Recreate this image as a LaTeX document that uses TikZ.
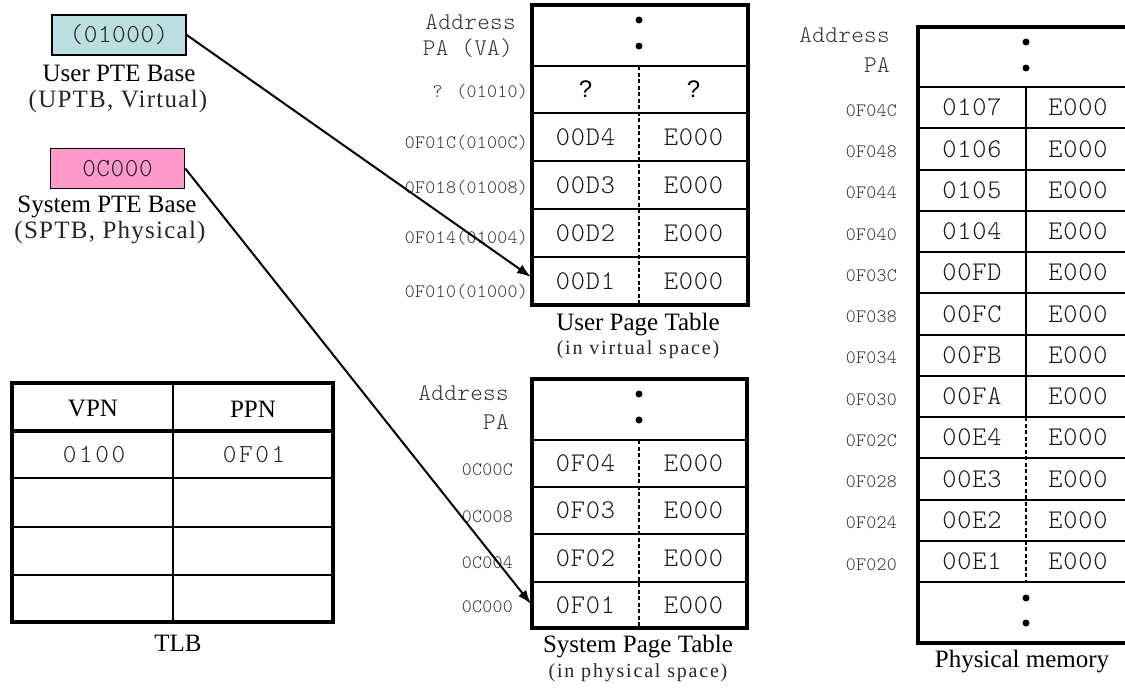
\documentclass[tikz,border=0pt]{standalone}
\usepackage{fontspec}
\setmainfont{Liberation Serif}
\newfontfamily\myMonoA{lmmonolt10-regular.otf}[LetterSpace=3]
\newfontfamily\myMonoB{lmmonolt10-regular.otf}[LetterSpace=1.5]
\newfontfamily\myMonoC{lmmonolt10-regular.otf}[LetterSpace=2]
\newfontfamily\myMonoD{lmmonolt10-regular.otf}[LetterSpace=10]
\newfontfamily\mySerifSp{Liberation Serif}[LetterSpace=5]
\newfontfamily\mySerifSub{Liberation Serif}[LetterSpace=9]
\newfontfamily\mySansQ{Liberation Sans}
\newcommand\myCell{\myMonoA\fontsize{27}{27}\selectfont}
\newcommand\myLab{\myMonoB\fontsize{19}{19}\selectfont}
\newcommand\myAddr{\myMonoB\fontsize{24}{24}\selectfont}
\newcommand\myBox{\myMonoC\fontsize{26}{26}\selectfont}
\newcommand\myTlbMono{\myMonoD\fontsize{26}{26}\selectfont}
\newcommand\myTitle{\rmfamily\fontsize{25}{25}\selectfont}
\newcommand\myParen{\mySerifSp\fontsize{25}{25}\selectfont}
\newcommand\mySub{\mySerifSub\fontsize{20}{20}\selectfont}
\newcommand\myQ{\mySansQ\fontsize{24}{24}\selectfont}
\usetikzlibrary{arrows.meta}
\definecolor{uptbfill}{RGB}{187,223,224}
\definecolor{sptbfill}{RGB}{255,153,204}
\begin{document}
\begin{tikzpicture}[x=1pt,y=-1pt,
  celltxt/.style={font=\myCell, text=black!90, inner sep=0pt},
  qtxt/.style={font=\myQ, inner sep=0pt},
  lab/.style={font=\myLab, text=black!80, anchor=east, inner sep=0pt},
  addr/.style={font=\myAddr, text=black!80, anchor=east, inner sep=0pt},
  title/.style={font=\myTitle, inner sep=0pt},
  paren/.style={font=\myParen, text=black!85, inner sep=0pt},
  sub/.style={font=\mySub, text=black!85, inner sep=0pt},
  basebox/.style={draw, line width=1.5pt, minimum width=134pt, minimum height=40pt, inner sep=0pt, font=\myBox, text=black!85},
  outerln/.style={line width=4pt},
  innerln/.style={line width=2pt},
  divsolid/.style={line width=2pt},
  divd/.style={line width=1.5pt, dash pattern=on 4pt off 2.5pt},
  dot/.style={circle, fill=black, inner sep=0pt, minimum size=7pt},
  arr/.style={line width=2pt, -{Latex[length=14pt,width=10pt]}}
]
\useasboundingbox (0,0) rectangle (1125,688);

% ---------- base registers ----------
\node[basebox, fill=uptbfill] (uptb) at (119,35) {(01000)};
\node[title] (uptbT) at (119,73) {User PTE Base};
\node[paren] (uptbS) at (118,101) {(UPTB, Virtual)};
\node[basebox, fill=sptbfill] (sptb) at (117.5,168.5) {0C000};
\node[title] (sptbT) at (107,207) {System PTE Base};
\node[paren] (sptbS) at (110,233) {(SPTB, Physical)};

% ---------- User page table ----------
\foreach \yy in {66,113,161,209,257} \draw[innerln] (532,\yy) -- (748,\yy);
\draw[divd] (639,66) -- (639,305);
\draw[outerln] (532,5) rectangle (748,305);
\node[dot] (ud1) at (639,20) {};
\node[dot] (ud2) at (639,46) {};
\node[addr] (uaddr1) at (516,22) {Address};
\node[addr] (uaddr2) at (513,48) {PA (VA)};
\node[qtxt] (uAq) at (585.5,89.5) {?};
\node[qtxt] (uBq) at (693.5,89.5) {?};
\node[lab] (uLq) at (528,92) {? (01010)};
\foreach \y/\a/\l/\ly/\n in {137/00D4/0F01C(0100C)/143/4, 185/00D3/0F018(01008)/188/3, 233/00D2/0F014(01004)/238/2, 281/00D1/0F010(01000)/292/1}{
  \node[celltxt] (uA\n) at (585.5,\y) {\a};
  \node[celltxt] (uB\n) at (693.5,\y) {E000};
  \node[lab] (uL\n) at (528,\ly) {\l};
}
\node[title] (uptT) at (638,325) {User Page Table};
\node[sub] (uptS) at (638,350) {(in virtual space)};
\coordinate (utarget) at (531,277);

% ---------- System page table ----------
\foreach \yy in {440,487,534,582} \draw[innerln] (532,\yy) -- (747,\yy);
\draw[divd] (639,440) -- (639,628);
\draw[outerln] (532,379) rectangle (747,628);
\node[dot] (sd1) at (639,394) {};
\node[dot] (sd2) at (639,420) {};
\node[addr] (saddr1) at (509,393) {Address};
\node[addr] (saddr2) at (509,422) {PA};
\foreach \y/\a/\l/\ly/\n in {463.5/0F04/0C00C/470/4, 510.5/0F03/0C008/517/3, 558/0F02/0C004/563/2, 605/0F01/0C000/607/1}{
  \node[celltxt] (sA\n) at (585.5,\y) {\a};
  \node[celltxt] (sB\n) at (693.5,\y) {E000};
  \node[lab] (sL\n) at (513,\ly) {\l};
}
\node[title] (sptT) at (638,647) {System Page Table};
\node[sub] (sptS) at (638,673) {(in physical space)};
\coordinate (starget) at (531,604);

% ---------- Physical memory ----------
\foreach \k in {0,...,12} \draw[innerln] (918,{87+41.25*\k}) -- (1125,{87+41.25*\k});
\draw[divsolid] (1026,87) -- (1026,417);
\draw[divd] (1026,417) -- (1026,582);
\draw[outerln] (1125,27) -- (918,27) -- (918,643) -- (1125,643);
\node[dot] (pd1) at (1026,42) {};
\node[dot] (pd2) at (1026,68) {};
\node[dot] (pd3) at (1026,598) {};
\node[dot] (pd4) at (1026,623) {};
\node[addr] (paddr1) at (890,35) {Address};
\node[addr] (paddr2) at (890,65) {PA};
\foreach \k/\a/\l in {0/0107/0F04C, 1/0106/0F048, 2/0105/0F044, 3/0104/0F040, 4/00FD/0F03C, 5/00FC/0F038, 6/00FB/0F034, 7/00FA/0F030, 8/00E4/0F02C, 9/00E3/0F028, 10/00E2/0F024, 11/00E1/0F020}{
  \node[celltxt] (pA\k) at (972,{107.6+41.25*\k}) {\a};
  \node[celltxt] (pB\k) at (1078,{107.6+41.25*\k}) {E000};
  \node[lab] (pL\k) at (897,{110.5+41.25*\k}) {\l};
}
\node[title] (pmT) at (1022,662) {Physical memory};

% ---------- TLB ----------
\foreach \yy in {478,527,575} \draw[innerln] (12,\yy) -- (333,\yy);
\draw[outerln] (12,431) -- (333,431);
\draw[line width=1.5pt] (173,383) -- (173,622);
\draw[outerln] (12,383) rectangle (333,622);
\node[title] (tV) at (93,409) {VPN};
\node[title] (tP) at (253,409) {PPN};
\node[font=\myTlbMono, text=black!85, inner sep=0pt] (t1) at (94,455) {0100};
\node[font=\myTlbMono, text=black!85, inner sep=0pt] (t2) at (254,455) {0F01};
\node[title] (tlbT) at (178,643) {TLB};

% ---------- arrows ----------
\draw[arr] (uptb.east) -- (utarget);
\draw[arr] (sptb.east) -- (starget);
\end{tikzpicture}
\end{document}
